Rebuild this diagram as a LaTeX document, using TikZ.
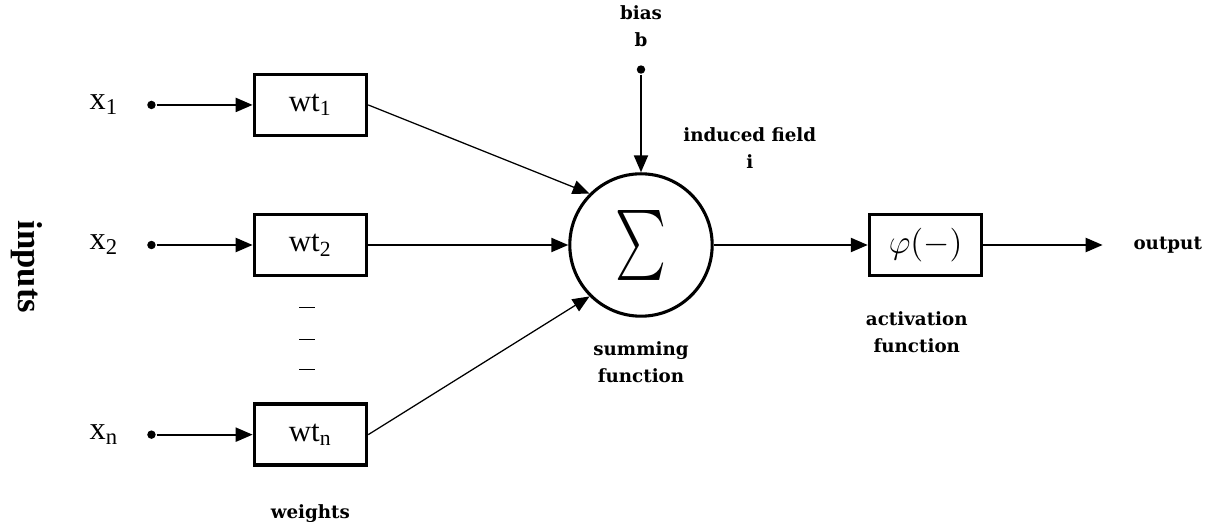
\documentclass[tikz,border=0pt]{standalone}
\usepackage{exscale}
\usepackage{fontspec}
\usepackage{graphicx}
\setmainfont{Liberation Serif}
\newfontfamily\lblfont{DejaVu Serif}
\usetikzlibrary{arrows.meta,positioning}

\begin{document}
\begin{tikzpicture}[>={Triangle[length=6pt,width=5pt]}, line width=0.65pt,
  wbox/.style={draw,line width=1.3pt,minimum width=14mm,minimum height=7.65mm,inner sep=0pt,font=\fontsize{11}{13}\selectfont},
  sumc/.style={draw,circle,line width=1.1pt,minimum size=17.8mm,inner sep=0pt},
  dot/.style={circle,fill,inner sep=0pt,minimum size=3pt},
  xin/.style={inner sep=1pt,font=\fontsize{11.5}{13}\selectfont},
  lbl/.style={align=center,inner sep=1pt,font=\lblfont\bfseries\fontsize{6.5}{9.5}\selectfont},
  link/.style={->,line width=0.45pt}]
\useasboundingbox (-80.125mm,-34.625mm) rectangle (70.75mm,30.625mm);
% summing junction and activation
\node[sumc] (sum) at (0,0) {\fontsize{23}{23}\selectfont\scalebox{0.69}[1]{$\sum$}};
\node[wbox,right=19.25mm of sum] (act) {\fontsize{12.5}{13}\selectfont$\varphi(-)$};
\coordinate[right=14.9mm of act] (tip);
\node[lbl,right=3.4mm of tip] (out) {output};
% weights
\node[wbox,left=25mm of sum] (wt2) {wt\textsubscript{2}};
\node[wbox,above=9.4mm of wt2] (wt1) {wt\textsubscript{1}};
\node[wbox,below=15.6mm of wt2] (wtn) {wt\textsubscript{n}};
% input points
\node[dot,left=12mm of wt1] (in1) {};
\node[dot,left=12mm of wt2] (in2) {};
\node[dot,left=12mm of wtn] (inn) {};
\node[xin,left=3mm of in1] (x1) {x\textsubscript{1}};
\node[xin,left=3mm of in2] (x2) {x\textsubscript{2}};
\node[xin,left=3mm of inn] (xn) {x\textsubscript{n}};
\node[font=\bfseries\fontsize{12.3}{14}\selectfont,rotate=-90] (inp) at (-76.75mm,-2.75mm) {inputs};
% bias
\node[dot,above=12.2mm of sum] (bdot) {};
\node[lbl,above=1.8mm of bdot] (bias) {bias\\b};
% labels
\node[lbl] (fld) at (13.6mm,12.1mm) {induced field\\i};
\node[lbl,below=2.5mm of sum] (sumlbl) {summing\\function};
\node[lbl,below=3.8mm of act,xshift=-1.1mm] (actlbl) {activation\\function};
\node[lbl,below=4.2mm of wtn] (wlbl) {weights};
% dashes between x2 and xn
\foreach \dy in {3.75,7.75,11.5}
  \draw[line width=0.5pt] ([xshift=-1.4mm,yshift=-\dy mm]wt2.south) -- ++(2mm,0);
% connectors
\draw[->] (in1) -- (wt1);
\draw[->] (in2) -- (wt2);
\draw[->] (inn) -- (wtn);
\draw[link] (wt1.east) -- (sum.135);
\draw[->] (wt2) -- (sum);
\draw[link] (wtn.east) -- (sum.225);
\draw[->] (bdot) -- (sum);
\draw[->] (sum) -- (act);
\draw[->] (act) -- (tip);
\end{tikzpicture}
\end{document}
